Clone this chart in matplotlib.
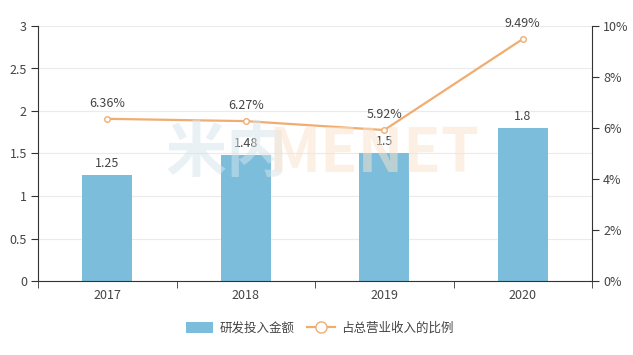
import matplotlib
matplotlib.use("Agg")
import matplotlib.pyplot as plt
from matplotlib.lines import Line2D
from matplotlib.patches import Patch
import numpy as np

plt.rcParams['font.family'] = ['Noto Sans CJK SC', 'DejaVu Sans']

years = ['2017', '2018', '2019', '2020']
rd_amount = [1.25, 1.48, 1.5, 1.8]
rd_ratio = [6.36, 6.27, 5.92, 9.49]
bar_name = '研发投入金额'
line_name = '占总营业收入的比例'

bar_color = '#7BBDDA'
line_color = '#F0AD72'
text_color = '#444444'
axis_color = '#333333'

fig = plt.figure(figsize=(6.33, 3.55), dpi=100)
ax = fig.add_axes([38/633, 74/355, (592-38)/633, (281-26)/355])
ax2 = ax.twinx()

x = np.arange(len(years))
ax.bar(x, rd_amount, width=0.36, color=bar_color, zorder=2)
for xi, v in zip(x, rd_amount):
    ax.text(xi, v + 0.06, f'{v:g}', ha='center', va='bottom', fontsize=9, color=text_color, zorder=5)

ax.set_xlim(-0.5, len(years) - 0.5)
ax.set_ylim(0, 3)
ax.set_yticks(np.arange(0, 3.01, 0.5))
ax.set_yticklabels(['0', '0.5', '1', '1.5', '2', '2.5', '3'])
ax.set_xticks(x)
ax.set_xticklabels(years)
ax.set_xticks(np.arange(-0.5, len(years), 1), minor=True)
ax.tick_params(axis='x', which='major', length=0, labelsize=9, colors=text_color, pad=6)
ax.tick_params(axis='x', which='minor', length=5, color=axis_color, direction='out')
ax.tick_params(axis='y', length=5, color=axis_color, labelsize=9, labelcolor=text_color, pad=3)
ax.grid(axis='y', color='#EBEBEB', linewidth=0.8, zorder=0)
ax.set_axisbelow(True)
ax.spines['top'].set_visible(False)
ax.spines['left'].set_color(axis_color)
ax.spines['bottom'].set_color(axis_color)
ax.spines['right'].set_visible(False)

ax2.plot(x, rd_ratio, color=line_color, linewidth=1.6, marker='o', markersize=4,
         markerfacecolor='white', markeredgecolor=line_color, markeredgewidth=1, zorder=4)
for xi, v in zip(x, rd_ratio):
    ax2.text(xi, v + 0.35, f'{v:.2f}%', ha='center', va='bottom', fontsize=9, color=text_color, zorder=5)
ax2.set_ylim(0, 10)
ax2.set_yticks(np.arange(0, 10.1, 2))
ax2.set_yticklabels([f'{int(t)}%' for t in np.arange(0, 10.1, 2)])
ax2.tick_params(axis='y', length=5, color=axis_color, labelsize=9, labelcolor=text_color, pad=3)
ax2.spines['top'].set_visible(False)
ax2.spines['left'].set_visible(False)
ax2.spines['bottom'].set_visible(False)
ax2.spines['right'].set_color(axis_color)

# watermark
fig.text(0.262, 0.565, '米内', fontsize=44, color='#D5E5EC', alpha=0.5, ha='left', va='center', fontweight='bold', zorder=0)
fig.text(0.424, 0.565, 'MENET', fontsize=44, color='#FBE3CC', alpha=0.5, ha='left', va='center', fontweight='bold', zorder=0)

handles = [Patch(facecolor=bar_color, edgecolor='none'),
           Line2D([0], [0], color=line_color, marker='o', markersize=8,
                  markerfacecolor='white', markeredgecolor=line_color, linewidth=1.6)]
fig.legend(handles, [bar_name, line_name], loc='center', bbox_to_anchor=(0.505, 27/355),
           ncol=2, frameon=False, fontsize=9, labelcolor=text_color,
           handlelength=2.2, handleheight=1.0, columnspacing=1.0, handletextpad=0.5)

fig.savefig('out.png', dpi=100)
